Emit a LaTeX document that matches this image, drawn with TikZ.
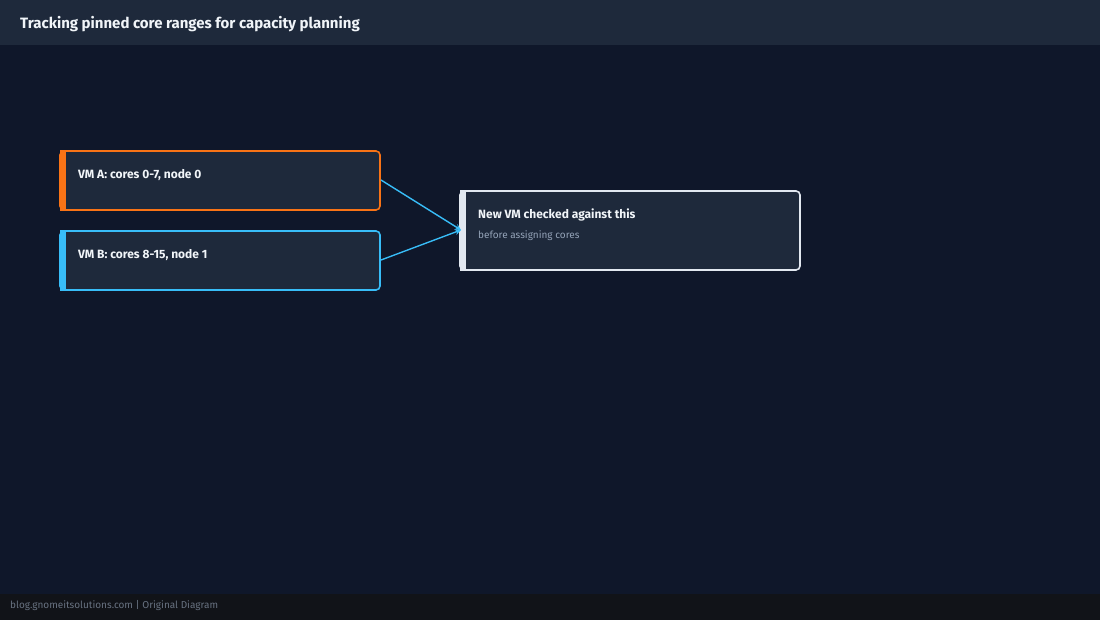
\documentclass[tikz,border=0pt]{standalone}
\usepackage{fontspec}
\setmainfont{Fira Sans}
\usetikzlibrary{arrows.meta}
\definecolor{bg}{HTML}{0F172A}
\definecolor{bar}{HTML}{1E293B}
\definecolor{foot}{HTML}{111318}
\definecolor{orangeB}{HTML}{F97316}
\definecolor{blueB}{HTML}{38BDF8}
\definecolor{whiteB}{HTML}{E2E8F0}
\definecolor{txt}{HTML}{F1F5F9}
\definecolor{sub}{HTML}{94A3B8}
\tikzset{
 box/.style={draw=#1, line width=1.6pt, fill=bar, rounded corners=4pt, inner sep=0pt},
 lbl/.style={anchor=west, text=txt, font=\bfseries\fontsize{12}{14}\selectfont, inner sep=0pt},
 conn/.style={draw=blueB, line width=1.4pt}
}
\begin{document}
\begin{tikzpicture}[x=1pt,y=-1pt]
\useasboundingbox (0,0) rectangle (1100,620);
\fill[bg] (0,0) rectangle (1100,620);
\fill[bar] (0,0) rectangle (1100,45);
\fill[foot] (0,594) rectangle (1100,620);
\node[anchor=west,text=txt,font=\bfseries\fontsize{15}{18}\selectfont,inner sep=0pt] (title) at (20,24) {Tracking pinned core ranges for capacity planning};
\node[anchor=west,text=sub!70!black,font=\fontsize{10}{12}\selectfont,inner sep=0pt] (foot) at (10,606) {blog.gnomeitsolutions.com | Original Diagram};
% boxes
\path[box=orangeB] (60,151) rectangle (380,210);
\fill[orangeB] (60,150) rectangle (66,211);
\node[lbl] (a) at (78,175) {VM A: cores 0-7, node 0};
\path[box=blueB] (60,231) rectangle (380,290);
\fill[blueB] (60,230) rectangle (66,291);
\node[lbl] (b) at (78,255) {VM B: cores 8-15, node 1};
\path[box=whiteB] (460,191) rectangle (800,270);
\fill[whiteB] (460,190) rectangle (466,271);
\node[lbl] (c) at (478,215) {New VM checked against this};
\node[anchor=west,text=sub,font=\fontsize{10}{12}\selectfont,inner sep=0pt] (cs) at (478,236) {before assigning cores};
\coordinate (aout) at (381,180);
\coordinate (bout) at (381,260);
\coordinate (cin) at (461,230);
\draw[conn,-{Stealth[length=6pt,width=6pt]}] (aout) -- (cin);
\draw[conn,-{Stealth[length=6pt,width=6pt]}] (bout) -- (cin);
\end{tikzpicture}
\end{document}
